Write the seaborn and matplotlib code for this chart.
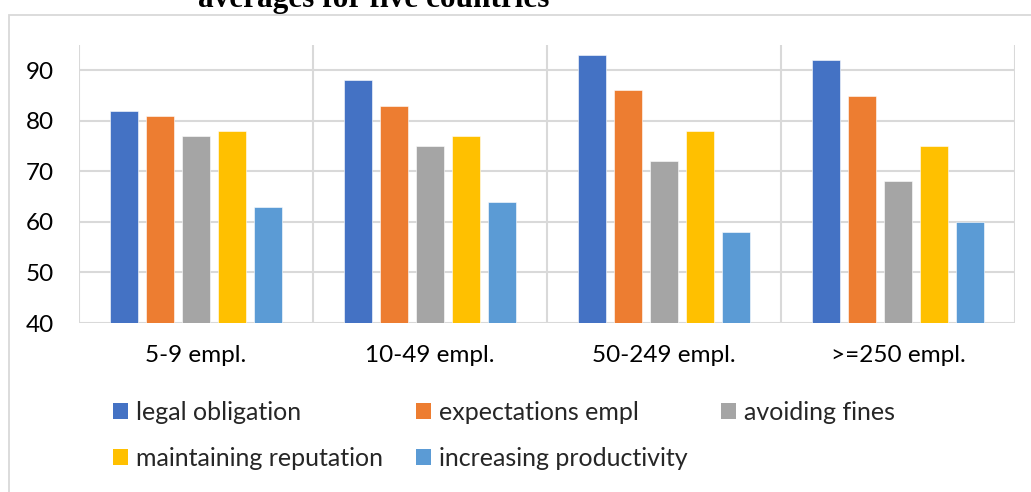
import matplotlib
matplotlib.use("Agg")
import matplotlib.pyplot as plt
from matplotlib.patches import Patch, Rectangle
import seaborn as sns
import pandas as pd

# Firm size classes and the share of firms citing each motive
categories = ["5-9 empl.", "10-49 empl.", "50-249 empl.", ">=250 empl."]
motives = ["legal obligation", "expectations empl", "avoiding fines",
           "maintaining reputation", "increasing productivity"]
legal_obligation = [82, 88, 93, 92]
expectations_empl = [81, 83, 86, 85]
avoiding_fines = [77, 75, 72, 68]
maintaining_reputation = [78, 77, 78, 75]
increasing_productivity = [63, 64, 58, 60]
y_ticks = [40, 50, 60, 70, 80, 90]

colors = ["#4472C4", "#ED7D31", "#A5A5A5", "#FFC000", "#5B9BD5"]
grid_col = "#D9D9D9"

series = [legal_obligation, expectations_empl, avoiding_fines,
          maintaining_reputation, increasing_productivity]
df = pd.DataFrame(
    [(cat, m, vals[i]) for m, vals in zip(motives, series)
     for i, cat in enumerate(categories)],
    columns=["size", "motive", "value"],
)

sns.set_theme(style="white")
plt.rcParams["font.family"] = ["Lato", "DejaVu Sans"]

W, H = 1031, 492
fig = plt.figure(figsize=(W / 100, H / 100), dpi=100)

# outer chart frame (top and left edges visible)
fig.patches.append(Rectangle((9 / W, -0.05), 1.2, 1 - 15 / H + 0.05,
                             transform=fig.transFigure, fill=False,
                             edgecolor=grid_col, linewidth=1.3))

fig.text(374 / W, 1 - 7 / H, "averages for five countries",
         ha="center", va="baseline", fontsize=22.5, fontweight="bold",
         family="Liberation Serif", color="black")

ax = fig.add_axes([79 / W, 1 - 323 / H, (1015 - 79) / W, (323 - 45) / H])
sns.barplot(data=df, x="size", y="value", hue="motive", order=categories,
            hue_order=motives, palette=colors, width=0.77, gap=0.22,
            saturation=1, edgecolor="white", linewidth=0.4, ax=ax,
            legend=False, zorder=3)

ax.set_ylim(40, 95)
ax.set_xlim(-0.5, 3.5)
ax.set_yticks(y_ticks)
ax.set_xlabel("")
ax.set_ylabel("")
for s in ax.spines.values():
    s.set_visible(False)

# horizontal grid at ticks, vertical separators between size classes
for yv in y_ticks:
    ax.axhline(yv, color=grid_col, linewidth=1.5, zorder=1)
for xv in [-0.5, 0.5, 1.5, 2.5, 3.5]:
    ax.axvline(xv, color=grid_col, linewidth=1.5, zorder=1)

ax.tick_params(axis="y", length=0, pad=18, labelsize=17.5, labelcolor="#000000")
ax.tick_params(axis="x", length=0, pad=16, labelsize=17.5, labelcolor="#000000")

# legend laid out row by row: three on the first line, two on the second
handles = [Patch(facecolor=c, edgecolor="none") for c in colors]
order = [0, 3, 1, 4, 2]
fig.legend([handles[i] for i in order], [motives[i] for i in order],
           ncol=3, loc="upper left", bbox_to_anchor=(113 / W, 1 - 401 / H),
           frameon=False, fontsize=18, handlelength=0.6, handleheight=0.6,
           handletextpad=0.3, columnspacing=1.35, labelspacing=0.9,
           borderaxespad=0, borderpad=0)

fig.savefig("out.png", dpi=100)
